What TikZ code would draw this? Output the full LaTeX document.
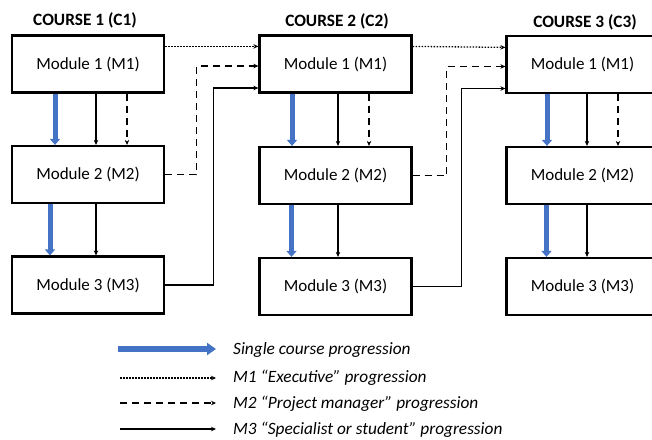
\documentclass[tikz,border=0pt]{standalone}
\usepackage{fontspec}
\setmainfont{Carlito}
\usetikzlibrary{arrows.meta}
\definecolor{cblue}{HTML}{4472C4}
\tikzset{
  modbox/.style={draw=black, line width=2.2pt, minimum width=152pt, minimum height=57pt, font=\fontsize{17}{20}\selectfont, inner sep=0pt},
  ctitle/.style={font=\bfseries\fontsize{17.3}{20}\selectfont, inner sep=0pt},
  smallhead/.style={-{Stealth[length=5pt,width=4.5pt]}, line width=1.1pt},
  solidcon/.style={smallhead},
  dashcon/.style={smallhead, dash pattern=on 7pt off 5pt},
  dotcon/.style={smallhead, line width=1.3pt, dash pattern=on 1.5pt off 1.5pt},
  bluearr/.style={draw=cblue, fill=cblue, line width=5pt, -{Triangle[length=6pt,width=10pt]}},
  legtext/.style={anchor=west, font=\itshape\fontsize{17.3}{20}\selectfont, inner sep=0pt}
}
\begin{document}
\begin{tikzpicture}[x=1pt,y=-1pt]
\useasboundingbox (0,0) rectangle (652,439);
\clip (0,0) rectangle (652,439);
% titles
\node[ctitle] (t1) at (85,20) {COURSE 1 (C1)};
\node[ctitle] (t2) at (337,21) {COURSE 2 (C2)};
\node[ctitle] (t3) at (585,22) {COURSE 3 (C3)};
% boxes
\node[modbox] (a1) at (88,64) {Module 1 (M1)};
\node[modbox] (a2) at (88,174.5) {Module 2 (M2)};
\node[modbox] (a3) at (88,285) {Module 3 (M3)};
\node[modbox] (b1) at (335.5,64) {Module 1 (M1)};
\node[modbox] (b2) at (335.5,175.5) {Module 2 (M2)};
\node[modbox] (b3) at (335.5,286.5) {Module 3 (M3)};
\node[modbox] (c1) at (582.5,64.5) {Module 1 (M1)};
\node[modbox] (c2) at (582.5,175.5) {Module 2 (M2)};
\node[modbox] (c3) at (582.5,286.5) {Module 3 (M3)};
% course 1 internal
\draw[bluearr] ([xshift=-33pt]a1.south) -- ([xshift=-33pt]a2.north);
\draw[bluearr] ([xshift=-38pt]a2.south) -- ([xshift=-38pt]a3.north);
\draw[solidcon] ([xshift=8pt]a1.south) -- ([xshift=8pt]a2.north);
\draw[dashcon] ([xshift=39pt]a1.south) -- ([xshift=39pt]a2.north);
\draw[solidcon] ([xshift=8pt]a2.south) -- ([xshift=8pt]a3.north);
% course 2 internal
\draw[bluearr] ([xshift=-43.5pt]b1.south) -- ([xshift=-43.5pt]b2.north);
\draw[bluearr] ([xshift=-44pt]b2.south) -- ([xshift=-44pt]b3.north);
\draw[solidcon] ([xshift=2.5pt]b1.south) -- ([xshift=2.5pt]b2.north);
\draw[dashcon] ([xshift=33.5pt]b1.south) -- ([xshift=33.5pt]b2.north);
\draw[solidcon] ([xshift=2.5pt]b2.south) -- ([xshift=2.5pt]b3.north);
% course 3 internal
\draw[bluearr] ([xshift=-35.5pt]c1.south) -- ([xshift=-35.5pt]c2.north);
\draw[bluearr] ([xshift=-36pt]c2.south) -- ([xshift=-36pt]c3.north);
\draw[solidcon] ([xshift=4.5pt]c1.south) -- ([xshift=4.5pt]c2.north);
\draw[dashcon] ([xshift=35.5pt]c1.south) -- ([xshift=35.5pt]c2.north);
\draw[solidcon] ([xshift=4.5pt]c2.south) -- ([xshift=4.5pt]c3.north);
% course 1 -> course 2
\draw[dotcon] ([yshift=-12pt]a1.north east) -- ([yshift=-12pt]b1.north west);
\draw[dashcon] (a2.east) -- ++(31,0) |- ([yshift=-2pt]b1.west);
\draw[solidcon] (a3.east) -- ++(48,0) |- ([yshift=-24pt]b1.west);
% course 2 -> course 3
\draw[dotcon] ([yshift=-12pt]b1.north east) -- ([yshift=-12.5pt]c1.north west);
\draw[dashcon] (b2.east) -- ++(34,0) |- ([yshift=-2pt]c1.west);
\draw[solidcon] (b3.east) -- ++(49,0) |- ([yshift=-24pt]c1.west);
% legend
\coordinate (l1a) at (118,349); \coordinate (l1b) at (216,349);
\coordinate (l2a) at (120,378); \coordinate (l2b) at (216,378);
\coordinate (l3a) at (120,403); \coordinate (l3b) at (216,403);
\coordinate (l4a) at (120,429); \coordinate (l4b) at (216,429);
\draw[draw=cblue, fill=cblue, line width=6pt, -{Triangle[length=9pt,width=12pt]}] (l1a) -- (l1b);
\draw[dotcon] (l2a) -- (l2b);
\draw[dashcon] (l3a) -- (l3b);
\draw[solidcon] (l4a) -- (l4b);
\node[legtext] (g1) at (233,350) {Single course progression};
\node[legtext] (g2) at (233,378) {M1 “Executive” progression};
\node[legtext] (g3) at (233,404) {M2 “Project manager” progression};
\node[legtext] (g4) at (233,430) {M3 “Specialist or student” progression};
\end{tikzpicture}
\end{document}
